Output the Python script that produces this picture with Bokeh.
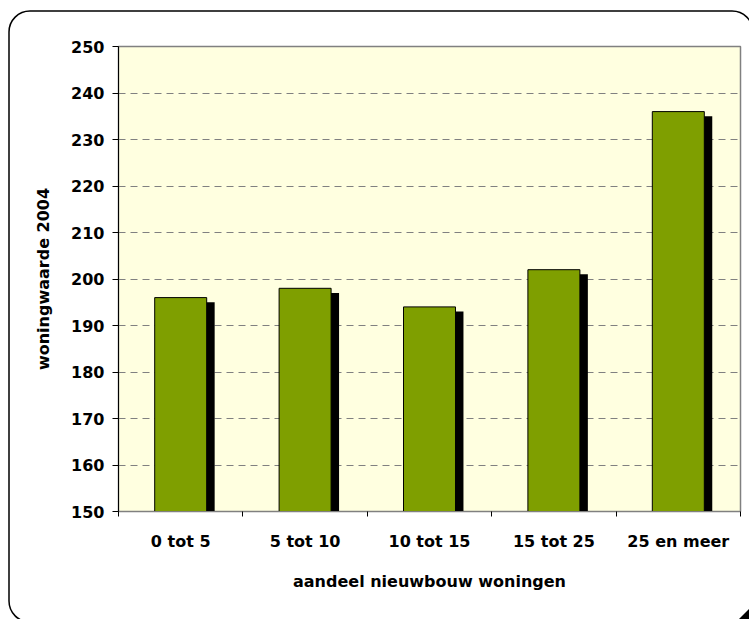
from urllib.parse import quote

from bokeh.plotting import figure
from bokeh.models import FixedTicker, InlineStyleSheet, Range1d
from bokeh.embed import file_html
from bokeh.resources import INLINE

# data
categories = ["0 tot 5", "5 tot 10", "10 tot 15", "15 tot 25", "25 en meer"]
woningwaarde = [196, 198, 194, 202, 236]
y_ticks = [150, 160, 170, 180, 190, 200, 210, 220, 230, 240, 250]

FONT = "DejaVu Sans"
SIZE = "16px"
W, H = 749, 619
x_pos = [i + 0.5 for i in range(len(categories))]
shadow_x = [x + 0.064 for x in x_pos]
shadow_top = [v - 1.0 for v in woningwaarde]

# rounded chart-area frame, drawn as the page background behind a transparent border fill;
# it runs off the right and bottom edges and is clipped by the image size
frame_svg = (
    f"<svg xmlns='http://www.w3.org/2000/svg' width='{W}' height='{H}'>"
    "<rect x='9' y='11' width='744' height='611' rx='21' ry='21' "
    "fill='white' stroke='black' stroke-width='1.5'/>"
    f"<path d='M739 {H} L{W} 609 L{W} {H} Z' fill='black'/>"
    "</svg>"
)
frame_css = InlineStyleSheet(css=f"""
:host {{
  background-color: white;
  background-image: url("data:image/svg+xml,{quote(frame_svg)}");
  background-repeat: no-repeat;
  background-position: 0 0;
}}
""")

p = figure(width=W, height=H, output_backend="svg", toolbar_location=None,
           x_range=Range1d(0, 5), y_range=Range1d(150, 250),
           min_border_left=118, min_border_right=9, min_border_top=46, min_border_bottom=108,
           background_fill_color="#ffffe0", border_fill_color=None,
           stylesheets=[frame_css])
p.outline_line_color = "#808080"
p.outline_line_width = 1.5

# bar shadows then bars
p.vbar(x=shadow_x, top=shadow_top, bottom=150, width=0.418, fill_color="black", line_color=None)
p.vbar(x=x_pos, top=woningwaarde, bottom=150, width=0.418, fill_color="#7f9f00",
       line_color="black", line_width=1)

# grid
p.xgrid.grid_line_color = None
p.ygrid.ticker = FixedTicker(ticks=y_ticks)
p.ygrid.grid_line_color = "#808080"
p.ygrid.grid_line_dash = "7 5"
p.ygrid.grid_line_width = 1

# y axis
p.yaxis.ticker = FixedTicker(ticks=y_ticks)
p.yaxis.axis_line_color = "black"
p.yaxis.major_tick_line_color = "black"
p.yaxis.major_tick_out = 6
p.yaxis.major_tick_in = 0
p.yaxis.minor_tick_line_color = None
p.yaxis.major_label_standoff = 8
p.yaxis.major_label_text_font = FONT
p.yaxis.major_label_text_font_style = "bold"
p.yaxis.major_label_text_font_size = SIZE
p.yaxis.major_label_text_color = "black"
p.yaxis.axis_label = "woningwaarde 2004"
p.yaxis.axis_label_text_font = FONT
p.yaxis.axis_label_text_font_style = "bold"
p.yaxis.axis_label_text_font_size = SIZE
p.yaxis.axis_label_text_color = "black"
p.yaxis.axis_label_standoff = 15

# x axis: labels centred on bars, tick marks between categories
p.xaxis.ticker = FixedTicker(ticks=x_pos, minor_ticks=list(range(len(categories) + 1)))
p.xaxis.major_label_overrides = {x: c for x, c in zip(x_pos, categories)}
p.xaxis.axis_line_color = "#808080"
p.xaxis.major_tick_line_color = None
p.xaxis.major_tick_out = 0
p.xaxis.major_tick_in = 0
p.xaxis.minor_tick_line_color = "black"
p.xaxis.minor_tick_out = 5
p.xaxis.minor_tick_in = 0
p.xaxis.major_label_standoff = 15
p.xaxis.major_label_text_font = FONT
p.xaxis.major_label_text_font_style = "bold"
p.xaxis.major_label_text_font_size = SIZE
p.xaxis.major_label_text_color = "black"
p.xaxis.axis_label = "aandeel nieuwbouw woningen"
p.xaxis.axis_label_text_font = FONT
p.xaxis.axis_label_text_font_style = "bold"
p.xaxis.axis_label_text_font_size = SIZE
p.xaxis.axis_label_text_color = "black"
p.xaxis.axis_label_standoff = 18

open("out.html", "w").write(file_html(p, INLINE))
